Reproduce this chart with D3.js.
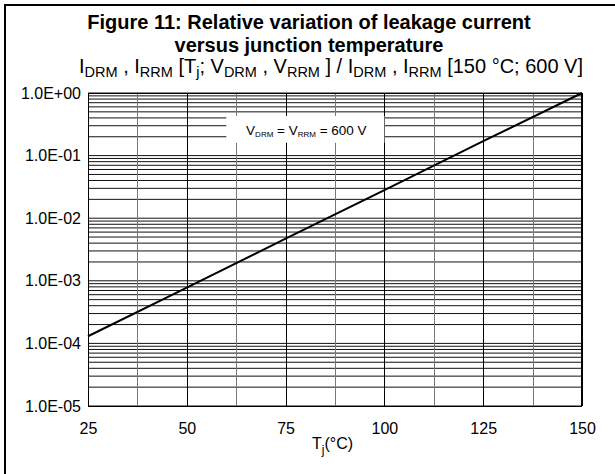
<!DOCTYPE html>
<html><head><meta charset="utf-8">
<script src="https://cdn.jsdelivr.net/npm/d3@7/dist/d3.min.js"></script>
<style>
body{margin:0;background:#fff}
svg{display:block}
text{font-family:"Liberation Sans",Arial,Helvetica,sans-serif;fill:#000}
</style></head><body>
<svg id="chart" width="615" height="474"></svg>
<script>
// ---- data ----
const temperatures = [25, 50, 75, 100, 125, 150];
const relLeakage   = [1.3e-4, 7.8e-4, 4.7e-3, 2.8e-2, 1.7e-1, 1.0];
const xTickValues  = [25, 50, 75, 100, 125, 150];
const xGridValues  = [25, 37.5, 50, 62.5, 75, 87.5, 100, 112.5, 125, 137.5, 150];
const yTickValues  = [1e-5, 1e-4, 1e-3, 1e-2, 1e-1, 1];
const yTickLabels  = ["1.0E-05", "1.0E-04", "1.0E-03", "1.0E-02", "1.0E-01", "1.0E+00"];
const minorMults   = [2, 3, 4, 5, 6, 7, 8, 9];

const svg = d3.select("#chart");
const W = 615, H = 474;
const m = {left: 88, right: 582, top: 93, bottom: 406};

const x = d3.scaleLinear().domain([25, 150]).range([m.left, m.right]);
const y = d3.scaleLog().domain([1e-5, 1]).range([m.bottom, m.top]);

// outer frame (left & top)
svg.append("line").attr("x1", 5).attr("x2", W).attr("y1", 5).attr("y2", 5).attr("stroke", "#000").attr("stroke-width", 2);
svg.append("line").attr("x1", 5).attr("x2", 5).attr("y1", 4).attr("y2", H).attr("stroke", "#000").attr("stroke-width", 2);

// titles
svg.append("text").attr("x", 309).attr("y", 29).attr("text-anchor", "middle")
  .style("font-size", "20px").style("font-weight", "bold")
  .text("Figure 11: Relative variation of leakage current");
svg.append("text").attr("x", 309).attr("y", 52).attr("text-anchor", "middle")
  .style("font-size", "20px").style("font-weight", "bold")
  .text("versus junction temperature");

// subtitle with subscripts
const subParts = [["I",""],["DRM","s"],[" , I",""],["RRM","s"],[" [T",""],["j","s"],["; V",""],["DRM","s"],[" , V",""],["RRM","s"],[" ] / I",""],["DRM","s"],[" , I",""],["RRM","s"],[" [150 °C; 600 V]",""]];
const st = svg.append("text").attr("x", 331).attr("y", 73).attr("text-anchor", "middle").style("font-size", "20px");
let prevSub = false;
subParts.forEach(([t, k]) => {
  const sp = st.append("tspan").text(t);
  if (k === "s") { sp.style("font-size", "14.5px").attr("dy", prevSub ? 0 : 4); prevSub = true; }
  else { if (prevSub) sp.attr("dy", -4); prevSub = false; }
});

const g = svg.append("g");

// horizontal grid (decades + minors)
const hVals = [];
yTickValues.forEach((d, i) => {
  hVals.push({v: d, major: true});
  if (i < yTickValues.length - 1) minorMults.forEach(mm => hVals.push({v: d * mm, major: false}));
});
g.selectAll("line.h").data(hVals).enter().append("line")
  .attr("x1", m.left).attr("x2", m.right)
  .attr("y1", d => y(d.v)).attr("y2", d => y(d.v))
  .attr("stroke", "#111").attr("stroke-width", 1);

// vertical grid
g.selectAll("line.v").data(xGridValues).enter().append("line")
  .attr("y1", m.top).attr("y2", m.bottom)
  .attr("x1", d => Math.round(x(d)) + 0.5).attr("x2", d => Math.round(x(d)) + 0.5)
  .attr("stroke", d => (d % 25 === 0) ? "#000" : "#777").attr("stroke-width", 1);

// legend box
const lb = {t0: 60, t1: 100, v0: 0.16, v1: 0.43};
svg.append("rect").attr("x", x(lb.t0)).attr("y", y(lb.v1))
  .attr("width", x(lb.t1) - x(lb.t0)).attr("height", y(lb.v0) - y(lb.v1))
  .attr("fill", "#fff");
const lt = svg.append("text").attr("x", (x(lb.t0) + x(lb.t1)) / 2 + 1).attr("y", 135)
  .attr("text-anchor", "middle").style("font-size", "13.5px");
lt.append("tspan").text("V");
lt.append("tspan").text("DRM").style("font-size", "8px").attr("dy", 2);
lt.append("tspan").text(" = V").attr("dy", -2);
lt.append("tspan").text("RRM").style("font-size", "8px").attr("dy", 2);
lt.append("tspan").text(" = 600 V").attr("dy", -2);

// plot border
svg.append("rect").attr("x", m.left + 0.5).attr("y", m.top + 0.5)
  .attr("width", m.right - m.left - 1).attr("height", m.bottom - m.top)
  .attr("fill", "none").attr("stroke", "#000").attr("stroke-width", 1);

// data line
const line = d3.line().x((d, i) => x(temperatures[i])).y(d => y(d));
svg.append("path").datum(relLeakage).attr("d", line)
  .attr("fill", "none").attr("stroke", "#000").attr("stroke-width", 2);

// axes labels
const yAxis = d3.axisLeft(y).tickValues(yTickValues)
  .tickFormat((d, i) => yTickLabels[i]).tickSize(0).tickPadding(7);
const ya = svg.append("g").attr("transform", `translate(${m.left},0)`).call(yAxis);
ya.select(".domain").remove();
ya.selectAll("text").style("font-size", "16px").style("font-family", '"Liberation Sans",Arial,sans-serif');

const xAxis = d3.axisBottom(x).tickValues(xTickValues).tickSize(0).tickPadding(17);
const xa = svg.append("g").attr("transform", `translate(0,${m.bottom})`).call(xAxis);
xa.select(".domain").remove();
xa.selectAll("text").style("font-size", "16px").style("font-family", '"Liberation Sans",Arial,sans-serif');

// x axis title
const xt = svg.append("text").attr("x", 312).attr("y", 449).style("font-size", "16px");
xt.append("tspan").text("T");
xt.append("tspan").text("j").style("font-size", "12px").attr("dy", 5);
xt.append("tspan").text("(°C)").attr("dy", -5);
</script>
</body></html>
